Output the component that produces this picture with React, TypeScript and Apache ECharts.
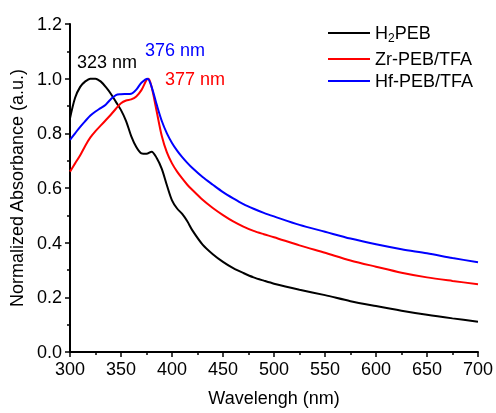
import React, { useEffect, useRef } from "react";
import * as echarts from "echarts";

const wlH = [300,305,310,315,320,325,330,335,340,345,350,355,360,365,370,375,380,385,390,395,400,405,410,415,420,430,440,450,460,470,480,490,500,525,550,575,600,625,650,675,700];
const absH = [0.855,0.93,0.97,0.99,1.0,1.0,0.99,0.97,0.945,0.915,0.885,0.845,0.79,0.75,0.727,0.725,0.733,0.71,0.67,0.61,0.555,0.525,0.505,0.478,0.445,0.393,0.358,0.33,0.307,0.289,0.273,0.261,0.25,0.228,0.208,0.186,0.168,0.151,0.136,0.123,0.111];

const wlZr = [300,305,310,315,320,325,330,335,340,345,350,355,360,365,370,375,377,380,385,390,395,400,405,410,415,420,430,440,450,460,470,480,490,500,525,550,575,600,625,650,675,700];
const absZr = [0.66,0.69,0.72,0.755,0.785,0.808,0.828,0.848,0.868,0.89,0.91,0.92,0.924,0.935,0.958,0.995,1.0,0.97,0.88,0.79,0.73,0.69,0.66,0.635,0.612,0.593,0.557,0.527,0.501,0.478,0.459,0.443,0.431,0.42,0.39,0.363,0.335,0.312,0.29,0.273,0.26,0.248];

const wlHf = [300,305,310,315,320,325,330,335,340,345,350,355,360,365,370,376,380,385,390,395,400,405,410,415,420,430,440,450,460,470,480,490,500,525,550,575,600,625,650,675,700];
const absHf = [0.776,0.8,0.824,0.845,0.865,0.88,0.892,0.905,0.925,0.94,0.943,0.944,0.945,0.96,0.985,1.0,0.97,0.905,0.845,0.8,0.765,0.737,0.713,0.692,0.673,0.64,0.612,0.585,0.562,0.541,0.524,0.509,0.496,0.465,0.44,0.415,0.394,0.376,0.361,0.344,0.328];

const seriesNames = ["H2PEB", "Zr-PEB/TFA", "Hf-PEB/TFA"];
const seriesColors = ["#000000", "#ff0000", "#0000ff"];
const peakLabels = ["323 nm", "376 nm", "377 nm"];

const FONT = "Liberation Sans, Arial, sans-serif";

export default function App() {
  const ref = useRef<HTMLDivElement>(null);
  useEffect(() => {
    if (!ref.current) return;
    const chart = echarts.init(ref.current, undefined, { renderer: "svg" });
    const pairs = (xs: number[], ys: number[]) => xs.map((x, i) => [x, ys[i]]);
    const datasets = [pairs(wlH, absH), pairs(wlZr, absZr), pairs(wlHf, absHf)];
    const legendTops = [24, 50, 72];
    chart.setOption({
      animation: false,
      textStyle: { fontFamily: FONT },
      grid: { left: 70, right: 18, top: 24, bottom: 61 },
      legend: seriesNames.map((n, i) => ({
        orient: "vertical",
        left: 328,
        top: legendTops[i],
        padding: 0,
        itemWidth: 42,
        itemHeight: 2,
        icon: "rect",
        textStyle: { fontSize: 18, color: "#000", fontFamily: FONT,
          rich: {
            a: { fontSize: 18, fontFamily: FONT, color: "#000" },
            s: { fontSize: 12, fontFamily: FONT, color: "#000", padding: [10, 0, 0, 0] },
          } },
        formatter: (name: string) => name === "H2PEB" ? "{a|H}{s|2}{a|PEB}" : name,
        data: [n],
      })),
      xAxis: {
        type: "value",
        min: 300,
        max: 700,
        interval: 50,
        name: "Wavelengh (nm)",
        nameLocation: "middle",
        nameGap: 37,
        nameTextStyle: { fontSize: 18, color: "#000", fontFamily: FONT },
        axisLine: { show: true, lineStyle: { color: "#000", width: 2 } },
        axisTick: { show: true, inside: false, length: 5, lineStyle: { width: 1.5, color: "#000" } },
        minorTick: { show: true, splitNumber: 2, length: 3, lineStyle: { width: 1.5, color: "#000" } },
        axisLabel: { fontSize: 18, color: "#000", margin: 8, fontFamily: FONT },
        splitLine: { show: false },
      },
      yAxis: {
        type: "value",
        min: 0,
        max: 1.2,
        interval: 0.2,
        name: "Normalized Absorbance (a.u.)",
        nameLocation: "middle",
        nameGap: 44,
        nameTextStyle: { fontSize: 18, color: "#000", fontFamily: FONT },
        axisLine: { show: true, lineStyle: { color: "#000", width: 2 } },
        axisTick: { show: true, inside: false, length: 5, lineStyle: { width: 1.5, color: "#000" } },
        minorTick: { show: true, splitNumber: 2, length: 3, lineStyle: { width: 1.5, color: "#000" } },
        axisLabel: { fontSize: 18, color: "#000", margin: 8, fontFamily: FONT, formatter: (v: number) => v.toFixed(1) },
        splitLine: { show: false },
      },
      series: seriesNames.map((n, i) => ({
        name: n,
        type: "line",
        data: datasets[i],
        showSymbol: false,
        smooth: 0.3,
        lineStyle: { color: seriesColors[i], width: 2 },
        itemStyle: { color: seriesColors[i] },
      })),
      graphic: [
        { type: "text", x: 77, y: 62, style: { text: peakLabels[0], fill: seriesColors[0], font: `18px ${FONT}`, verticalAlign: "middle" } },
        { type: "text", x: 145, y: 50, style: { text: peakLabels[1], fill: seriesColors[2], font: `18px ${FONT}`, verticalAlign: "middle" } },
        { type: "text", x: 165, y: 79, style: { text: peakLabels[2], fill: seriesColors[1], font: `18px ${FONT}`, verticalAlign: "middle" } },
      ],
    });
    return () => chart.dispose();
  }, []);
  return <div ref={ref} style={{ position: "fixed", left: 0, top: 0, width: 496, height: 413 }} />;
}
